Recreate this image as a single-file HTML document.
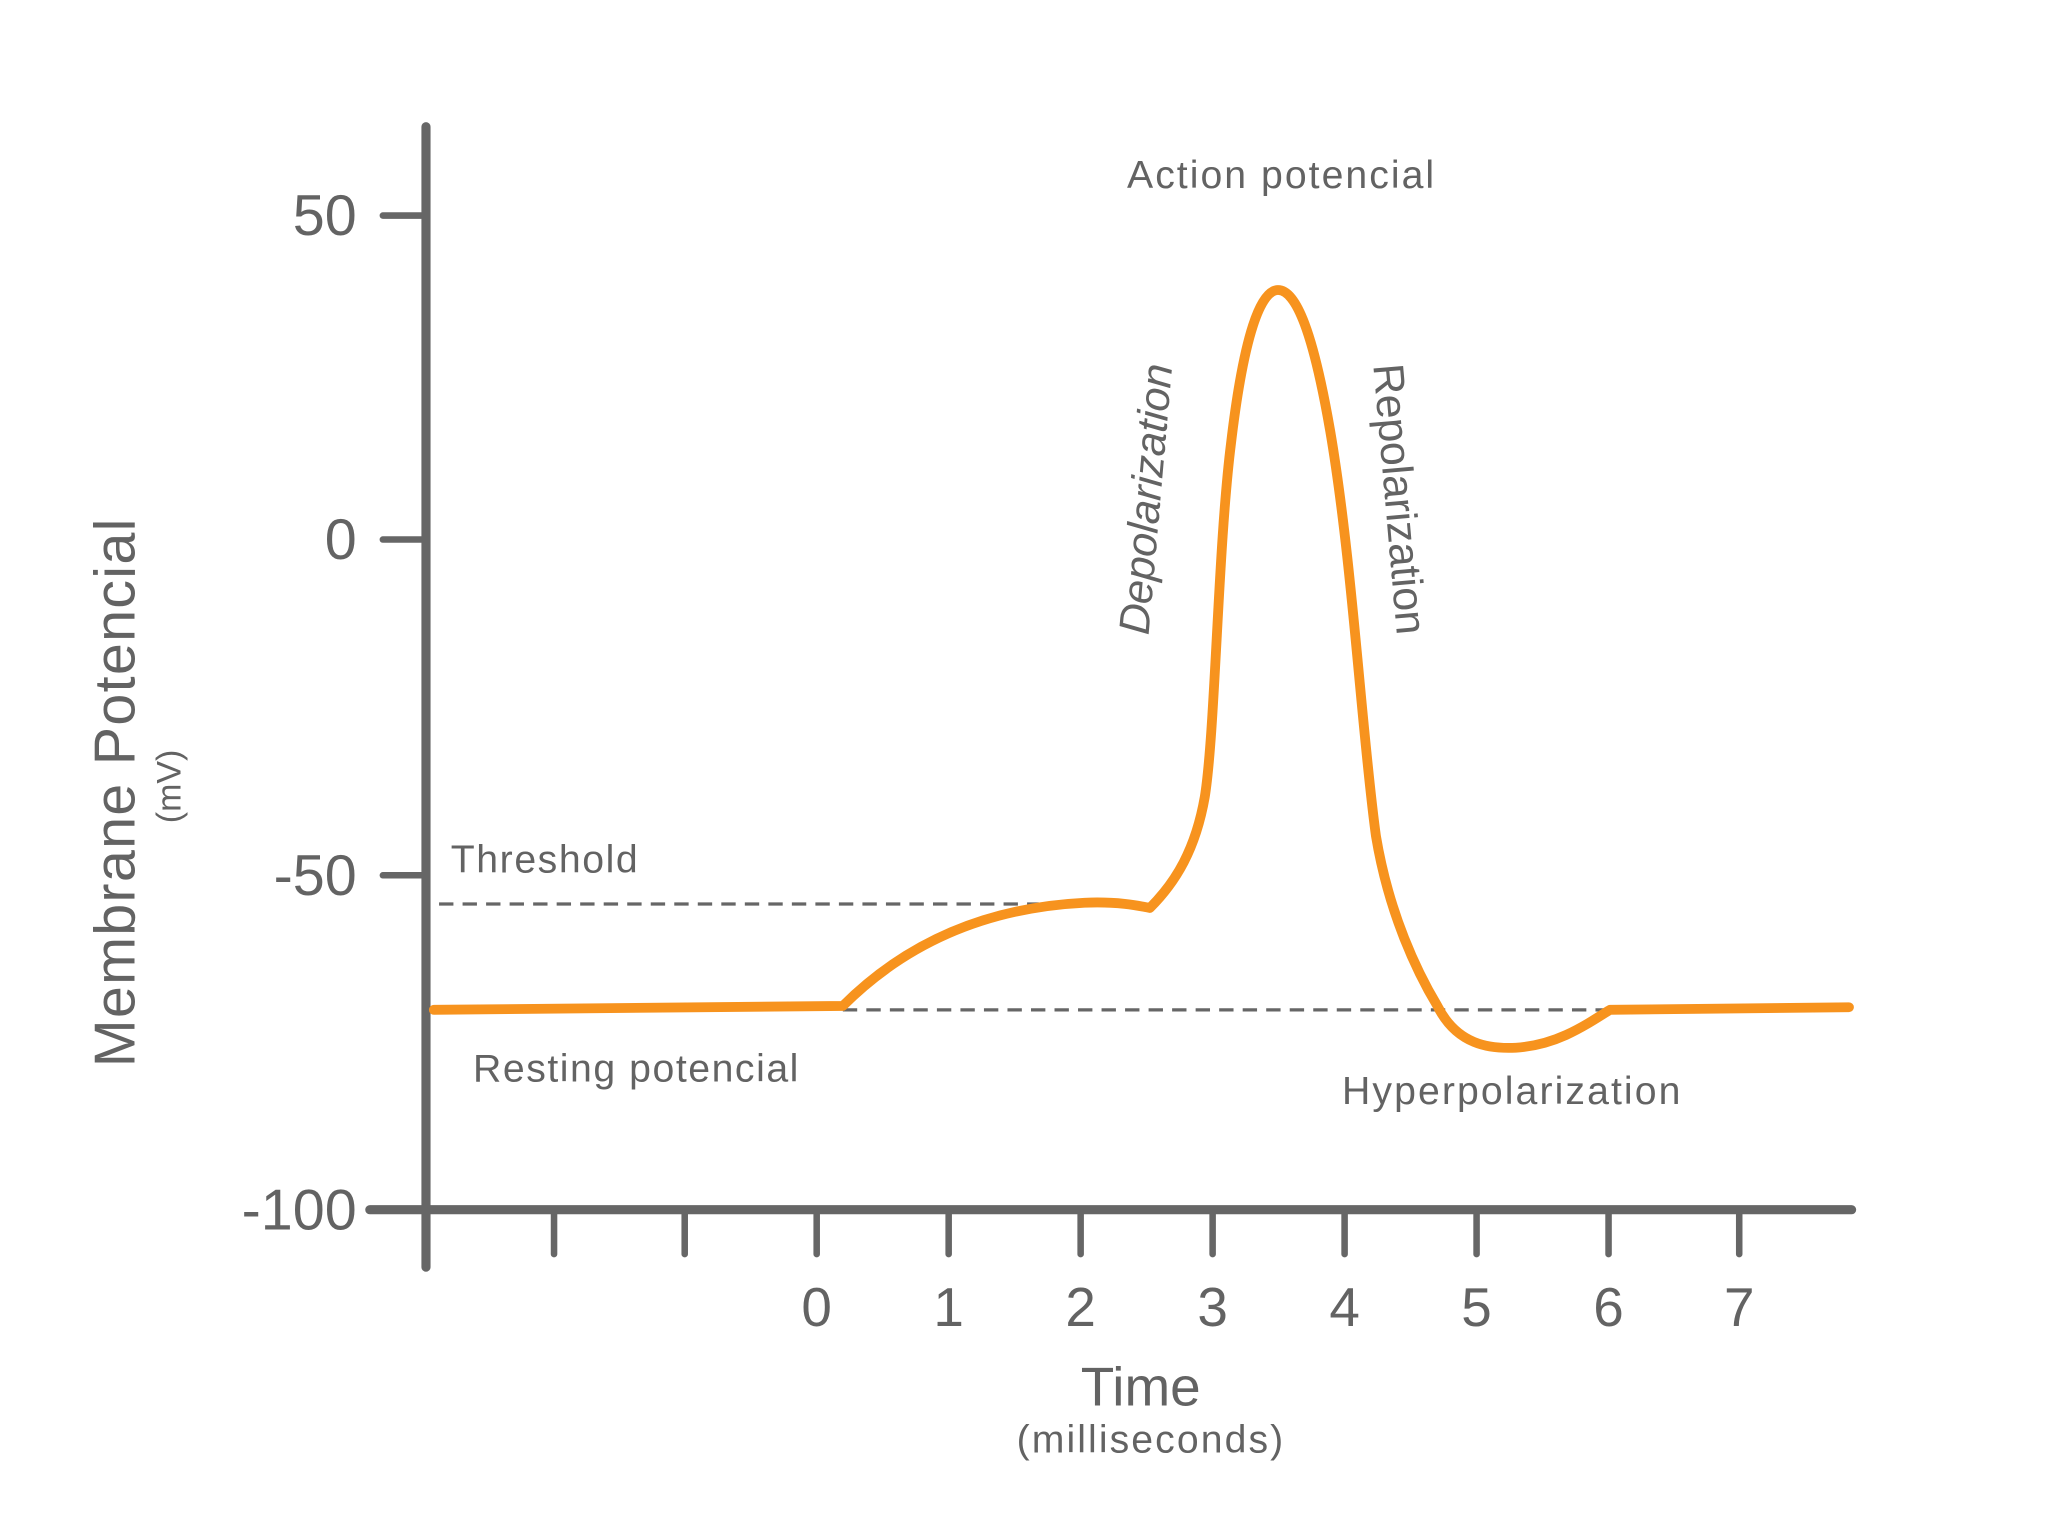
<!DOCTYPE html>
<html><head><meta charset="utf-8"><style>
html,body{margin:0;padding:0;background:#fff;}
svg{display:block;}
text{font-family:"Liberation Sans",sans-serif;fill:#636363;}
</style></head><body>
<svg width="2048" height="1535" viewBox="0 0 1567.3 1175" preserveAspectRatio="none" xmlns="http://www.w3.org/2000/svg">
<g stroke="#666" stroke-linecap="round" fill="none">
<line x1="326" y1="97" x2="326" y2="970" stroke-width="7"/>
<line x1="283" y1="926" x2="1417" y2="926" stroke-width="7"/>
<g stroke-width="5">
<line x1="293" y1="165" x2="326" y2="165"/>
<line x1="293" y1="413" x2="326" y2="413"/>
<line x1="293" y1="670" x2="326" y2="670"/>
<line x1="424" y1="926" x2="424" y2="960"/>
<line x1="524" y1="926" x2="524" y2="960"/>
<line x1="625" y1="926" x2="625" y2="960"/>
<line x1="726" y1="926" x2="726" y2="960"/>
<line x1="827" y1="926" x2="827" y2="960"/>
<line x1="928" y1="926" x2="928" y2="960"/>
<line x1="1029" y1="926" x2="1029" y2="960"/>
<line x1="1130" y1="926" x2="1130" y2="960"/>
<line x1="1231" y1="926" x2="1231" y2="960"/>
<line x1="1331" y1="926" x2="1331" y2="960"/>
</g>
<line x1="336" y1="692" x2="795" y2="692" stroke-width="2.5" stroke-dasharray="11,7" stroke-linecap="butt"/>
<line x1="645" y1="773" x2="1230" y2="773" stroke-width="2.5" stroke-dasharray="11,7" stroke-linecap="butt"/>
</g>
<path d="M332,773 L645,770 C690,725 750,695 830,691 C855,690 870,693 880,695 C900,675 915,650 922,610 C930,560 932,420 942,340 C952,255 965,222 978,222 C992,222 1005,255 1018,330 C1035,430 1042,560 1053,640 C1063,700 1085,745 1100,770 C1115,800 1140,803 1160,802 C1190,800 1210,787 1232,773 L1415,771" fill="none" stroke="#F7931E" stroke-width="7.5" stroke-linecap="round" stroke-linejoin="round"/>
<g font-size="44" text-anchor="end">
<text x="273" y="180">50</text>
<text x="273" y="428">0</text>
<text x="273" y="685">-50</text>
<text x="273" y="941">-100</text>
</g>
<g font-size="42" text-anchor="middle">
<text x="625" y="1015">0</text><text x="726" y="1015">1</text><text x="827" y="1015">2</text><text x="928" y="1015">3</text>
<text x="1029" y="1015">4</text><text x="1130" y="1015">5</text><text x="1231" y="1015">6</text><text x="1331" y="1015">7</text>
</g>
<text x="873" y="1076" font-size="42" text-anchor="middle">Time</text>
<text x="880" y="1112" font-size="30" text-anchor="middle" textLength="204">(milliseconds)</text>
<text x="980" y="144" font-size="30" text-anchor="middle" textLength="235">Action potencial</text>
<text x="345" y="668" font-size="30" textLength="143">Threshold</text>
<text x="362" y="828" font-size="30" textLength="249">Resting potencial</text>
<text x="1027" y="845" font-size="30" textLength="259">Hyperpolarization</text>
<text transform="translate(888,383) rotate(-85)" font-size="33" font-style="italic" text-anchor="middle" textLength="208">Depolarization</text>
<text transform="translate(1060,383) rotate(85)" font-size="33" text-anchor="middle" textLength="208">Repolarization</text>
<text transform="translate(103,607) rotate(-90)" font-size="44" text-anchor="middle" textLength="420">Membrane Potencial</text>
<text transform="translate(138,602) rotate(-90)" font-size="26" text-anchor="middle">(mV)</text>
</svg>
</body></html>
